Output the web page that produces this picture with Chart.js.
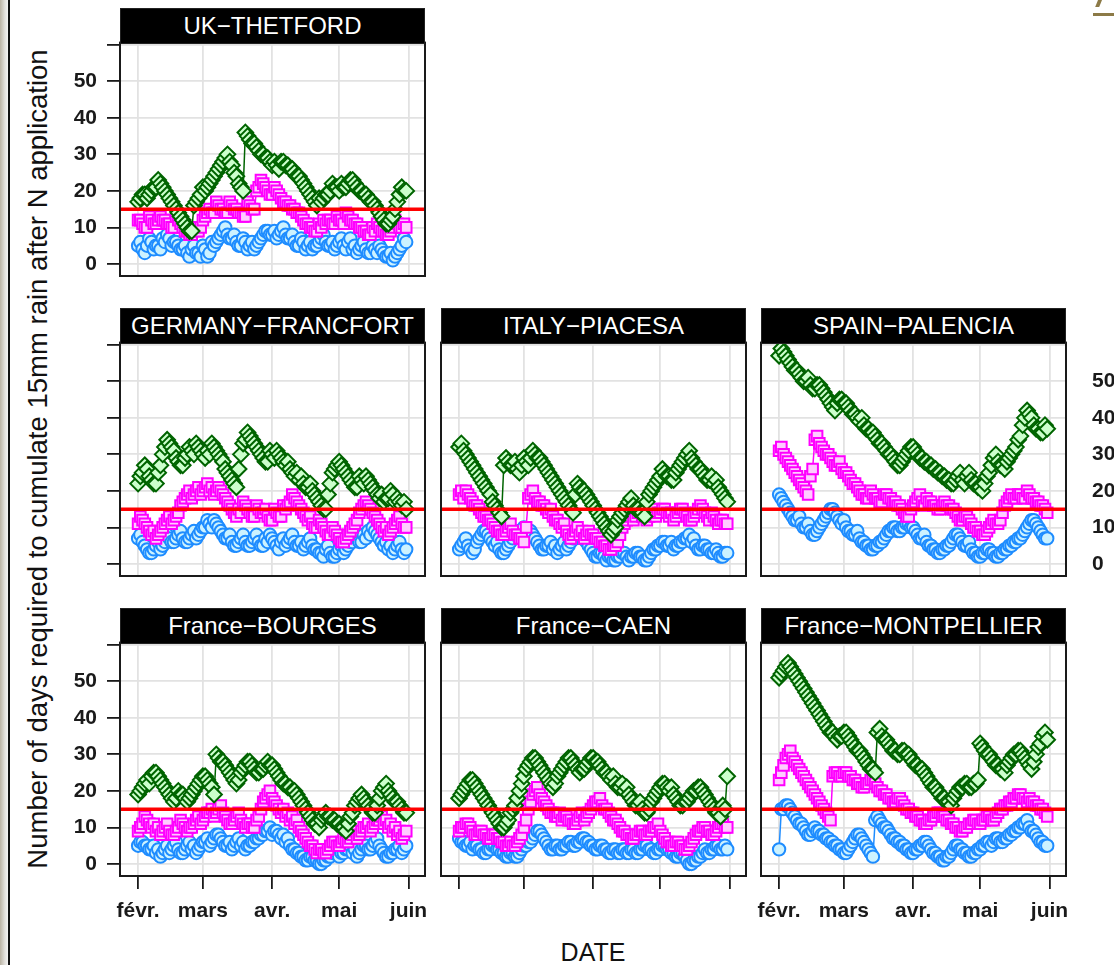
<!DOCTYPE html>
<html>
<head>
<meta charset="utf-8">
<title>Days to cumulate 15mm rain after N application</title>
<script src="https://cdn.jsdelivr.net/npm/chart.js@4.4.1/dist/chart.umd.min.js"></script>
<style>
  html, body { margin: 0; padding: 0; background: #fff; overflow: hidden; width: 1114px; height: 965px; }
  #page { position: relative; width: 1114px; height: 965px; font-family: "Liberation Sans", Arial, Helvetica, sans-serif; }
  .edge { position: absolute; left: 0; top: 0; width: 8px; height: 965px;
          background: linear-gradient(to right, #bab3a4, #e2e0db 60%, #f5f5f5); }
  .rule { position: absolute; left: 8px; top: 0; width: 2px; height: 965px; background: #111; }
  .corner-a { position: absolute; left: 1097px; top: -2px; width: 4px; height: 9px; background: #8c7a47; transform: skewX(-22deg); }
  .corner-b { position: absolute; left: 1093px; top: 13px; width: 21px; height: 3px; background: #8c7a47; }
  .strip { position: absolute; background: #000; color: #fff; text-align: center; font-size: 24px;
           box-sizing: border-box; border: 1.5px solid #222; white-space: nowrap; overflow: hidden; }
  canvas { position: absolute; }
  .ytitle { position: absolute; width: 860px; height: 34px; line-height: 34px; text-align: center;
            font-size: 27.5px; color: #111; transform: rotate(-90deg); transform-origin: 50% 50%; white-space: nowrap; }
  .xtitle { position: absolute; width: 200px; height: 30px; line-height: 30px; text-align: center;
            font-size: 25px; color: #111; }
</style>
</head>
<body>
<div id="page">
  <div class="edge"></div>
  <div class="rule"></div>
  <div class="corner-a"></div>
  <div class="corner-b"></div>
  <div class="ytitle" style="left:-392px; top:442px;">Number of days required to cumulate 15mm rain after N application</div>
  <div class="xtitle" style="left:493px; top:937px;">DATE</div>
</div>
<script>
// Application day, counted from 1 February (daily up to 1 June)
const DAYS = [0,1,2,3,4,5,6,7,8,9, 10,11,12,13,14,15,16,17,18,19, 20,21,22,23,24,25,26,27,28,29,
              30,31,32,33,34,35,36,37,38,39, 40,41,42,43,44,45,46,47,48,49, 50,51,52,53,54,55,56,57,58,59,
              60,61,62,63,64,65,66,67,68,69, 70,71,72,73,74,75,76,77,78,79, 80,81,82,83,84,85,86,87,88,89,
              90,91,92,93,94,95,96,97,98,99, 100,101,102,103,104,105,106,107,108,109, 110,111,112,113,114,115,116,117,118,119, 120];

// Month ticks on the date axis
const MONTH_DAYS = [0, 29, 60, 90, 121];
const MONTH_NAMES = ['févr.', 'mars', 'avr.', 'mai', 'juin'];

// Value axis ticks
const Y_TICKS = [0, 10, 20, 30, 40, 50, 60];
const Y_TICK_LABELS = ['0', '10', '20', '30', '40', '50', ''];

// Reference threshold (days)
const THRESHOLD = 15;

// Site names shown in the panel strips
const SITE_NAMES = ['UK\u2212THETFORD', 'GERMANY\u2212FRANCFORT', 'ITALY\u2212PIACESA', 'SPAIN\u2212PALENCIA',
                    'France\u2212BOURGES', 'France\u2212CAEN', 'France\u2212MONTPELLIER'];

// Days needed to cumulate 15 mm — high / middle / low series per site
const UK_HIGH = [17,18,19,19,18,19,20,21,21,23, 22,21,20,19,18,17,16,15,14,13, 12,11,10,9,9,16,17,18,19,21,
                 20,21,22,23,24,25,26,27,28,29, 30,28,27,25,24,22,21,20,36,35, 34,33,33,32,31,30,30,29,29,28,
                 27,28,27,26,28,28,27,27,26,26, 25,24,24,23,22,21,20,19,18,17, 16,18,17,18,19,19,20,22,21,21,
                 20,22,21,21,22,23,23,22,21,20, 20,19,19,18,17,17,16,15,14,13, 12,11,11,12,13,15,17,19,21,20, 20];
const UK_MID = [12,12, 11,10, 10,13, 12,11, 11,12, 13,12, 12,11, 11,10, 10,13, 12,11, 10,9, 9,8, 8,10, 9,9, 10,12,
                13,14, 15,14, 14,17, 16,15, 15,14, 14,17, 16,15, 15,14, 14,13, 13,17, 16,15, 15,20, 21,23, 22,21, 20,19,
                19,21, 20,19, 18,17, 17,16, 16,15, 15,14, 14,13, 12,11, 11,10, 10,9, 9,11, 10,12, 11,12, 12,11, 11,13,
                12,12, 11,14, 13,12, 12,11, 11,10, 10,9, 9,8, 8,10, 9,11, 10,9, 9,8, 8,9, 10,12, 11,10, 10,11, 10];
const UK_LOW = [5,6, 4,3, 5,7, 6,4, 5,5, 4,7, 6,8, 7,5, 6,6, 5,4, 4,5, 3,2, 4,5, 3,3, 2,5, 4,2, 3,6, 5,6, 7,8, 9,10,
                8,7, 7,8, 6,5, 5,7, 6,4, 5,6, 4,5, 6,7, 8,9, 9,8, 8,9, 7,8, 9,10, 8,7, 7,8, 6,5, 5,7, 6,4, 5,6, 4,5,
                5,6, 7,8, 6,5, 5,6, 4,5, 6,7, 5,4, 6,7, 4,5, 3,4, 5,6, 4,3, 3,5, 4,3, 5,4, 3,2, 2,3, 1,2, 3,4, 5,7, 6];

const GER_HIGH = [22,24, 25,27, 26,24, 23,22, 22,25, 27,30, 32,34, 33,32, 31,29, 28,27, 27,29, 30,32, 31,30, 33,32, 31,30,
                  29,31, 30,33, 32,31, 30,29, 28,26, 25,24, 23,22, 21,26, 30,33, 34,36, 35,34, 33,32, 31,30, 29,28, 28,31,
                  30,29, 31,30, 29,28, 27,28, 26,25, 24,25, 23,24, 22,21, 21,22, 20,19, 18,17, 16,15, 15,19, 22,25, 26,27,
                  28,27, 26,25, 24,23, 22,21, 21,24, 23,22, 24,23, 22,21, 20,19, 18,19, 17,18, 18,20, 19,17, 18,17, 16,17, 15];
const GER_MID = [11,13, 12,11, 10,9, 8,9, 7,8, 9,10, 11,12, 13,11, 12,13, 14,16, 17,18, 19,20, 18,19, 20,21, 19,20,
                 21,22, 20,21, 19,20, 21,20, 19,18, 17,16, 15,14, 13,15, 14,17, 16,15, 14,13, 13,16, 15,14, 14,15, 13,12,
                 12,15, 14,13, 13,16, 15,16, 17,19, 18,17, 16,15, 14,13, 12,13, 11,10, 10,12, 11,10, 9,8, 8,10, 9,8,
                 7,6, 6,7, 8,9, 10,11, 12,14, 15,16, 17,16, 15,14, 13,12, 11,10, 9,10, 8,9, 10,11, 12,13, 11,10, 10];
const GER_LOW = [7,8, 6,5, 4,3, 3,4, 5,6, 4,5, 6,8, 7,6, 6,7, 8,9, 7,6, 6,7, 8,9, 7,8, 9,10, 10,12, 11,10, 12,11, 10,9, 8,7,
                 7,8, 6,5, 5,6, 7,8, 6,5, 5,6, 7,8, 6,5, 5,7, 6,8, 7,6, 5,4, 6,7, 5,6, 7,8, 6,5, 5,6, 4,5, 6,7, 5,4,
                 4,3, 3,2, 4,5, 3,2, 2,3, 4,5, 3,4, 5,6, 6,8, 7,6, 6,8, 7,9, 8,10, 9,8, 7,6, 5,6, 4,5, 3,4, 5,6, 4,3, 4];

const ITA_HIGH = [32,33, 31,30, 29,28, 27,26, 25,24, 23,22, 21,20, 19,17, 16,15, 14,13, 27,29, 28,27, 27,28, 26,25, 27,29,
                  28,27, 29,31, 30,29, 29,28, 27,26, 25,24, 23,22, 21,20, 19,18, 17,16, 15,14, 19,22, 21,20, 20,19, 18,17,
                  16,15, 14,13, 12,11, 10,9, 8,9, 10,12, 13,14, 15,16, 17,18, 16,15, 15,14, 14,13, 17,19, 20,21, 22,23,
                  24,26, 25,24, 24,23, 23,25, 26,27, 28,29, 30,31, 29,28, 27,26, 26,25, 24,23, 23,24, 22,23, 21,20, 19,18, 17];
const ITA_MID = [19,20, 18,20, 19,18, 17,16, 16,15, 14,13, 13,12, 12,11, 10,9, 9,8, 8,9, 10,11, 9,8, 8,7, 7,6,
                 10,18, 19,20, 18,17, 17,16, 16,15, 14,15, 13,12, 12,11, 10,11, 9,8, 7,8, 9,10, 8,9, 7,8, 9,8,
                 8,7, 7,6, 6,5, 5,4, 4,5, 5,6, 8,10, 11,12, 13,14, 12,13, 14,15, 13,14, 12,13, 14,15, 13,14,
                 14,15, 15,14, 13,14, 12,13, 14,15, 15,14, 13,12, 12,13, 14,15, 16,15, 14,13, 12,14, 13,12, 11,12, 12,11, 11];
const ITA_LOW = [4,5, 6,7, 5,4, 3,4, 6,7, 8,9, 9,8, 7,6, 5,6, 4,3, 3,4, 5,6, 7,8, 8,9, 9,10, 8,9, 9,8, 7,6, 5,4, 4,5,
                 5,6, 4,5, 3,4, 5,6, 4,5, 6,7, 7,8, 8,7, 7,6, 5,4, 3,2, 2,3, 3,2, 1,2, 2,1, 1,2, 2,3, 3,2, 1,2, 2,3,
                 3,2, 2,1, 1,2, 3,4, 4,5, 5,6, 6,5, 5,6, 4,5, 5,6, 6,7, 7,8, 6,7, 5,4, 4,5, 5,4, 4,3, 3,4, 3,2, 2,3, 3];

const ESP_HIGH = [57,59, 58,57, 56,55, 54,53, 53,52, 51,50, 50,51, 49,48, 48,49, 49,48, 47,46, 45,44, 43,42, 44,45, 45,44,
                  44,43, 42,41, 41,40, 39,40, 38,37, 37,36, 36,35, 34,33, 33,32, 31,30, 30,29, 28,27, 27,28, 29,30, 31,32,
                  32,31, 30,29, 29,28, 28,27, 27,26, 26,25, 25,24, 24,23, 23,22, 22,23, 24,25, 23,22, 24,25, 23,22, 22,21,
                  21,20, 22,24, 25,27, 29,30, 28,27, 27,26, 28,29, 30,31, 32,34, 35,38, 40,42, 41,40, 38,37, 37,36, 36,38, 37];
const ESP_MID = [31,32, 30,29, 28,27, 26,25, 24,23, 22,21, 20,19, 24,26, 34,35, 33,32, 31,30, 30,29, 28,27, 27,28, 26,25,
                 25,24, 23,22, 22,21, 20,19, 19,18, 18,20, 19,18, 18,17, 17,19, 19,18, 18,17, 17,16, 16,15, 14,13, 13,15,
                 16,17, 18,19, 17,16, 18,17, 17,16, 16,15, 15,16, 17,16, 16,15, 15,14, 13,12, 12,13, 13,12, 11,10, 10,9,
                 9,8, 8,9, 10,11, 12,11, 11,12, 14,16, 17,18, 19,18, 18,19, 19,18, 18,20, 19,18, 18,17, 17,16, 16,15, 14];
const ESP_LOW = [19,18, 17,16, 15,14, 13,12, 12,13, 11,10, 10,11, 9,8, 8,9, 10,11, 12,13, 14,15, 15,14, 13,12, 11,12,
                 10,9, 9,8, 8,9, 7,6, 6,5, 5,4, 4,5, 5,6, 6,7, 8,9, 9,10, 10,9, 9,10, 10,11, 11,10, 10,9, 8,7, 7,8,
                 6,5, 5,4, 4,3, 3,4, 4,5, 5,6, 7,8, 8,7, 6,5, 5,6, 4,3, 3,2, 2,3, 3,4, 4,3, 3,2, 2,3, 3,4, 4,5, 5,6,
                 6,7, 7,8, 9,10, 11,12, 12,11, 10,9, 8,7, 7];

const BOU_HIGH = [19,20, 21,22, 23,22, 24,25, 25,24, 23,22, 21,20, 19,18, 17,18, 20,19, 19,18, 17,18, 19,20, 21,22, 23,24,
                  24,23, 22,21, 19,30, 29,28, 28,27, 26,25, 24,23, 22,23, 25,26, 27,28, 28,27, 26,25, 25,26, 26,27, 28,27,
                  27,26, 25,24, 23,22, 22,21, 21,20, 20,19, 18,17, 16,15, 14,13, 12,11, 11,10, 12,13, 14,13, 13,12, 12,11,
                  11,10, 10,9, 11,13, 14,16, 17,18, 19,18, 17,16, 15,14, 14,16, 18,20, 21,22, 20,19, 18,17, 17,16, 15,14, 14];
const BOU_MID = [9,10, 11,13, 12,11, 10,11, 9,10, 8,9, 10,11, 9,8, 8,9, 10,12, 11,10, 9,10, 10,11, 12,13, 11,12, 13,14,
                 14,15, 13,14, 15,16, 14,13, 12,11, 11,12, 13,14, 12,11, 10,11, 11,10, 10,12, 13,15, 17,18, 19,20, 18,17,
                 16,15, 14,15, 13,14, 12,13, 11,12, 10,9, 8,7, 6,5, 5,4, 3,4, 4,3, 3,4, 5,6, 6,5, 5,6, 7,6, 6,7, 8,9, 7,8,
                 9,10, 10,11, 9,10, 11,12, 12,13, 11,12, 10,11, 9,10, 8,9, 7,8, 9];
const BOU_LOW = [5,6, 6,5, 5,4, 4,5, 3,4, 2,3, 4,5, 3,4, 5,6, 4,3, 3,4, 5,6, 4,5, 3,4, 5,6, 6,7, 5,6, 7,8, 8,7, 6,5,
                 5,6, 4,5, 6,7, 5,6, 4,5, 5,6, 6,7, 7,8, 8,9, 9,10, 8,9, 9,8, 7,8, 6,7, 5,4, 4,3, 3,2, 2,1, 1,2, 2,1,
                 1,0, 0,1, 1,2, 2,3, 3,4, 2,3, 3,4, 4,5, 3,4, 2,3, 4,5, 5,4, 4,5, 6,7, 5,4, 3,2, 2,3, 3,4, 4,5, 3,4, 5];

const CAE_HIGH = [18,19, 20,21, 22,23, 23,22, 21,20, 19,18, 17,16, 15,14, 13,12, 11,10, 10,11, 12,14, 15,16, 18,20, 22,24,
                  26,27, 28,29, 29,28, 27,26, 25,24, 23,22, 21,22, 24,25, 26,27, 28,29, 29,28, 27,26, 25,26, 26,27, 28,29,
                  29,28, 28,27, 26,25, 25,24, 23,24, 22,21, 21,22, 20,21, 19,18, 17,16, 16,17, 15,14, 14,15, 17,18, 19,20,
                  21,22, 22,21, 20,21, 19,18, 17,16, 16,17, 17,18, 19,20, 20,21, 21,20, 19,18, 17,16, 15,14, 14,13, 16,15, 24];
const CAE_MID = [9,10, 10,11, 11,10, 9,8, 8,9, 9,8, 8,7, 7,8, 8,7, 7,6, 6,5, 5,6, 5,5, 6,7, 8,10, 12,15, 17,19, 20,21,
                 19,18, 17,16, 15,14, 14,13, 13,14, 12,13, 13,12, 12,11, 11,12, 13,14, 12,13, 14,15, 16,17, 17,18, 16,15,
                 15,14, 13,12, 12,11, 10,9, 9,8, 8,7, 7,8, 8,9, 9,8, 8,9, 9,10, 10,11, 9,8, 7,6, 6,5, 5,6, 6,5, 5,4,
                 4,5, 6,7, 8,9, 9,10, 10,9, 9,8, 8,9, 10,11, 11,10, 10];
const CAE_LOW = [7,6, 6,5, 5,6, 4,5, 5,4, 4,3, 3,4, 4,5, 5,4, 4,3, 3,2, 2,3, 3,2, 2,3, 4,5, 5,6, 6,7, 8,9, 9,8, 7,6,
                 5,4, 4,5, 5,4, 4,5, 5,6, 6,5, 5,6, 6,7, 7,6, 6,5, 5,4, 4,5, 5,4, 4,3, 3,4, 4,3, 3,4, 4,3, 3,4, 4,3,
                 3,4, 4,5, 5,4, 4,3, 3,4, 4,5, 5,4, 4,3, 3,2, 2,3, 3,2, 1,0, 0,1, 1,2, 2,3, 4,3, 3,4, 4,5, 5,4, 4,5, 4];

const MTP_HIGH = [51,52, 53,54, 55,54, 53,52, 51,50, 49,48, 47,46, 45,44, 43,42, 41,40, 39,38, 37,36, 36,35, 34,35, 35,36,
                  36,35, 34,33, 32,31, 31,30, 29,28, 27,26, 26,25, 36,37, 35,34, 34,33, 32,31, 31,30, 30,31, 31,30, 30,29,
                  28,27, 27,26, 26,25, 24,23, 22,21, 21,20, 19,18, 18,17, 17,16, 18,19, 20,21, 21,22, 22,21, 21,22, 22,23,
                  33,32, 31,30, 30,29, 28,27, 27,26, 26,25, 27,28, 29,30, 30,31, 31,30, 29,28, 27,26, 28,30, 32,33, 35,36, 34];
const MTP_MID = [23,25, 27,29, 30,31, 29,28, 27,26, 25,24, 23,22, 21,20, 19,18, 17,16, 15,14, 13,12, 24,25, 25,24, 24,25,
                 25,24, 24,23, 23,22, 22,21, 21,22, 22,23, 23,22, 21,20, 20,19, 19,18, 18,17, 17,18, 18,17, 16,15, 15,14,
                 14,13, 13,12, 12,11, 11,12, 12,13, 13,14, 14,13, 13,12, 12,11, 11,10, 10,9, 9,10, 10,11, 11,12, 12,11,
                 11,12, 12,13, 13,12, 12,13, 14,15, 15,16, 16,17, 17,18, 18,19, 19,18, 18,17, 18,17, 17,16, 16,15, 15,14, 13];
const MTP_LOW = [4,15, 15,16, 16,15, 14,13, 12,11, 11,10, 9,8, 8,9, 10,9, 9,8, 8,7, 7,6, 6,5, 5,4, 4,3, 3,4, 5,6, 7,8,
                 8,7, 6,5, 4,3, 2,12, 13,12, 11,10, 10,9, 8,7, 7,6, 6,5, 5,4, 4,3, 3,4, 4,5, 5,6, 6,5, 4,3, 3,2, 2,1,
                 1,2, 2,3, 4,5, 5,4, 4,3, 3,2, 2,3, 3,4, 4,5, 5,6, 6,5, 6,7, 7,6, 6,7, 7,8, 8,9, 9,10, 10,11, 11,12,
                 10,9, 9,8, 7,6, 6,5, 5];

// ---- drawing ----
const X_MIN = -8.1, X_MAX = 128.4;
const Y_MIN = -3.3, Y_MAX = 60.6;

const SERIES_STYLE = [
  { stroke: '#006400', fill: '#CCFFCC', shape: 'rectRot', radius: 7.8 },
  { stroke: '#FF00FF', fill: '#FFCCFF', shape: 'rect',    radius: 7.5 },
  { stroke: '#1E8CFF', fill: '#CCF2FF', shape: 'circle',  radius: 6.2 }
];

const COL_X = [120, 441, 761];
const ROW_Y = [43, 343, 643];
const PW = 305, PH = 233, STRIP_H = 36;
const L = 60, R = 50, T = 16, B = 50;
const GRID = '#e2e2e2';
const TICK_FONT = { family: '"Liberation Sans", Arial, sans-serif', size: 21, weight: 'bold' };
const TICK_COLOR = '#1a1a1a';

const PANELS = [
  { name: SITE_NAMES[0], col: 0, row: 0, series: [UK_HIGH, UK_MID, UK_LOW],    yTicks: true,  yLeft: true,  yRight: false, xTicks: false, xLabels: false },
  { name: SITE_NAMES[1], col: 0, row: 1, series: [GER_HIGH, GER_MID, GER_LOW], yTicks: true,  yLeft: false, yRight: false, xTicks: false, xLabels: false },
  { name: SITE_NAMES[2], col: 1, row: 1, series: [ITA_HIGH, ITA_MID, ITA_LOW], yTicks: false, yLeft: false, yRight: false, xTicks: false, xLabels: false },
  { name: SITE_NAMES[3], col: 2, row: 1, series: [ESP_HIGH, ESP_MID, ESP_LOW], yTicks: false, yLeft: false, yRight: true,  xTicks: false, xLabels: false },
  { name: SITE_NAMES[4], col: 0, row: 2, series: [BOU_HIGH, BOU_MID, BOU_LOW], yTicks: true,  yLeft: true,  yRight: false, xTicks: true,  xLabels: true },
  { name: SITE_NAMES[5], col: 1, row: 2, series: [CAE_HIGH, CAE_MID, CAE_LOW], yTicks: false, yLeft: false, yRight: false, xTicks: true,  xLabels: false },
  { name: SITE_NAMES[6], col: 2, row: 2, series: [MTP_HIGH, MTP_MID, MTP_LOW], yTicks: false, yLeft: false, yRight: false, xTicks: true,  xLabels: true }
];

const thresholdLine = {
  id: 'thresholdLine',
  afterDatasetsDraw(chart) {
    const { ctx, chartArea: a, scales } = chart;
    const py = scales.y.getPixelForValue(THRESHOLD);
    ctx.save();
    ctx.strokeStyle = '#ff0000';
    ctx.lineWidth = 3.5;
    ctx.beginPath();
    ctx.moveTo(a.left, py);
    ctx.lineTo(a.right, py);
    ctx.stroke();
    ctx.restore();
  }
};

const panelFrame = {
  id: 'panelFrame',
  afterDraw(chart) {
    const { ctx, chartArea: a } = chart;
    ctx.save();
    ctx.strokeStyle = '#1a1a1a';
    ctx.lineWidth = 2;
    ctx.strokeRect(a.left, a.top, a.right - a.left, a.bottom - a.top);
    ctx.restore();
  }
};

const page = document.getElementById('page');

function yTickLabel(v) {
  const i = Y_TICKS.indexOf(v);
  return i >= 0 ? Y_TICK_LABELS[i] : '';
}

function panelConfig(p) {
  const datasets = p.series.map((vals, k) => {
    const s = SERIES_STYLE[k];
    return {
      data: vals.map((v, i) => ({ x: DAYS[i], y: v })),
      showLine: true,
      borderColor: s.stroke,
      borderWidth: 1.5,
      backgroundColor: s.fill,
      pointStyle: s.shape,
      pointRadius: s.radius,
      pointBorderColor: s.stroke,
      pointBackgroundColor: s.fill,
      pointBorderWidth: 2,
      tension: 0,
      fill: false
    };
  });
  return {
    type: 'line',
    data: { datasets },
    options: {
      responsive: false,
      animation: false,
      devicePixelRatio: 1,
      layout: { padding: { top: T, left: 0, right: 0, bottom: 0 } },
      plugins: { legend: { display: false }, tooltip: { enabled: false }, title: { display: false } },
      scales: {
        x: {
          type: 'linear', min: X_MIN, max: X_MAX, bounds: 'data',
          afterBuildTicks: s => { s.ticks = MONTH_DAYS.map(v => ({ value: v })); },
          ticks: {
            autoSkip: false, maxRotation: 0, minRotation: 0, padding: 10,
            color: TICK_COLOR, font: TICK_FONT,
            callback: v => p.xLabels ? MONTH_NAMES[MONTH_DAYS.indexOf(v)] : ''
          },
          grid: { color: GRID, lineWidth: 1.8, drawTicks: true, tickLength: 13, tickWidth: 1.8,
                  tickColor: p.xTicks ? TICK_COLOR : 'rgba(0,0,0,0)' },
          border: { display: false },
          afterFit: s => { s.height = B; }
        },
        y: {
          position: 'left', min: Y_MIN, max: Y_MAX, bounds: 'data',
          afterBuildTicks: s => { s.ticks = Y_TICKS.map(v => ({ value: v })); },
          ticks: {
            autoSkip: false, padding: 10, color: TICK_COLOR, font: TICK_FONT,
            callback: v => p.yLeft ? yTickLabel(v) : ''
          },
          grid: { color: GRID, lineWidth: 1.8, drawTicks: true, tickLength: 13, tickWidth: 1.8,
                  tickColor: p.yTicks ? TICK_COLOR : 'rgba(0,0,0,0)' },
          border: { display: false },
          afterFit: s => { s.width = L; }
        },
        y2: {
          position: 'right', min: Y_MIN, max: Y_MAX, bounds: 'data',
          afterBuildTicks: s => { s.ticks = Y_TICKS.map(v => ({ value: v })); },
          ticks: {
            autoSkip: false, padding: 26, color: TICK_COLOR, font: TICK_FONT,
            callback: v => p.yRight ? yTickLabel(v) : ''
          },
          grid: { display: false, drawTicks: false },
          border: { display: false },
          afterFit: s => { s.width = R; }
        }
      }
    },
    plugins: [thresholdLine, panelFrame]
  };
}

function buildPanel(p, w, h) {
  const cv = document.createElement('canvas');
  cv.width = w;
  cv.height = h;
  page.appendChild(cv);
  const chart = new Chart(cv, panelConfig(p));
  return { cv, chart };
}

PANELS.forEach(p => {
  let built = buildPanel(p, PW + L + R, PH + T + B);
  let ca = built.chart.chartArea;
  // resize once so that the plotting area gets exactly PW x PH
  const dw = Math.round(PW - (ca.right - ca.left));
  const dh = Math.round(PH - (ca.bottom - ca.top));
  if (dw !== 0 || dh !== 0) {
    built.chart.destroy();
    built.cv.remove();
    built = buildPanel(p, PW + L + R + dw, PH + T + B + dh);
    ca = built.chart.chartArea;
  }
  built.cv.style.left = (COL_X[p.col] - ca.left) + 'px';
  built.cv.style.top = (ROW_Y[p.row] - ca.top) + 'px';

  const strip = document.createElement('div');
  strip.className = 'strip';
  strip.style.left = COL_X[p.col] + 'px';
  strip.style.top = (ROW_Y[p.row] - STRIP_H + 1) + 'px';
  strip.style.width = (ca.right - ca.left) + 'px';
  strip.style.height = STRIP_H + 'px';
  strip.style.lineHeight = (STRIP_H - 3) + 'px';
  strip.textContent = p.name;
  page.appendChild(strip);
});
</script>
</body>
</html>
